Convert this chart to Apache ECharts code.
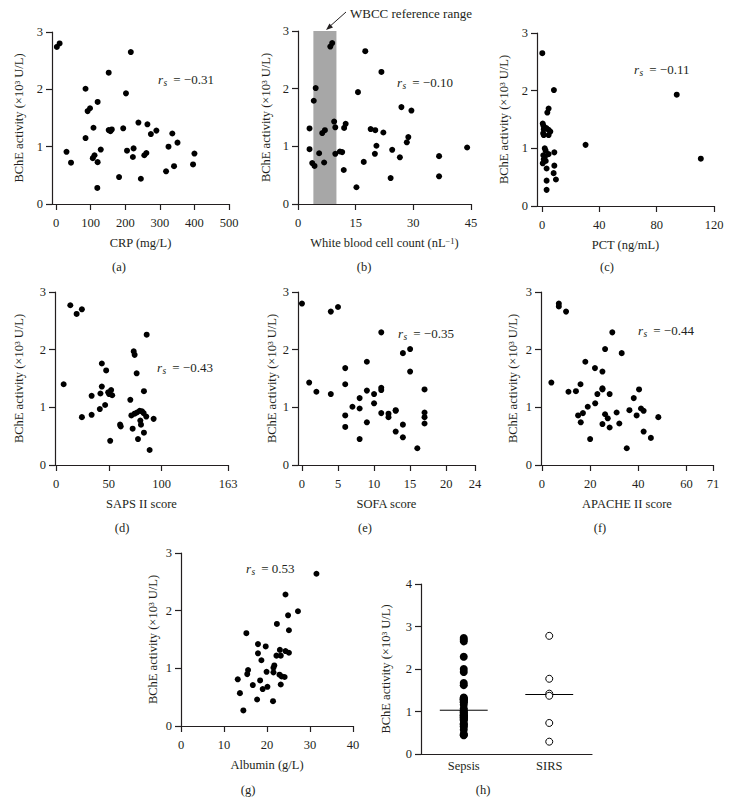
<!DOCTYPE html>
<html><head><meta charset="utf-8">
<script src="https://cdn.jsdelivr.net/npm/echarts@6/dist/echarts.min.js"></script>
<style>html,body{margin:0;padding:0;background:#fff}#c{width:732px;height:805px}</style>
</head><body><div id="c"></div>
<script>
// ---------------- DATA ----------------
const yTicks = [0, 1, 2, 3];
const yTicksH = [0, 1, 2, 3, 4];
const crpTicks = [0, 100, 200, 300, 400, 500];
const wbcTicks = [0, 15, 30, 45];
const pctTicks = [0, 40, 80, 120];
const sapsTicks = [0, 50, 100, 163];
const sofaTicks = [0, 5, 10, 15, 20, 24];
const apacheTicks = [0, 20, 40, 60, 71];
const albTicks = [0, 10, 20, 30, 40];
const categories = ['Sepsis', 'SIRS'];
const wbccRange = [4, 10];
const rsValues = ['−0.31', '−0.10', '−0.11', '−0.43', '−0.35', '−0.44', '0.53'];

const crpData = [[2,2.74],[10,2.80],[216,2.65],[152,2.29],[85,2.01],[202,1.93],[120,1.78],[98,1.67],[91,1.62],[108,1.33],[85,1.15],[152,1.29],[157,1.27],[161,1.30],[194,1.32],[238,1.42],[264,1.39],[290,1.28],[274,1.22],[336,1.23],[30,0.91],[43,0.72],[106,0.80],[111,0.85],[129,0.95],[120,0.73],[205,0.93],[224,0.97],[222,0.82],[255,0.85],[261,0.89],[325,1.00],[351,1.07],[400,0.88],[182,0.47],[245,0.44],[318,0.57],[341,0.66],[396,0.69],[119,0.28]];
const wbcData = [[8.4,2.73],[8.9,2.79],[17.5,2.65],[21.7,2.29],[15.6,1.94],[4.6,2.01],[4.1,1.79],[26.9,1.68],[29.5,1.62],[9.4,1.43],[3.0,1.31],[6.3,1.23],[7.0,1.28],[9.7,1.33],[12.4,1.39],[12.0,1.32],[18.9,1.30],[20.1,1.28],[22.2,1.24],[28.7,1.16],[28.3,1.07],[3.0,0.95],[5.5,0.88],[3.7,0.71],[4.3,0.66],[6.8,0.72],[9.7,0.87],[10.9,0.91],[11.5,0.90],[11.9,0.59],[20.4,1.01],[20.0,0.87],[24.5,0.94],[26.5,0.81],[17.1,0.73],[15.2,0.29],[24.1,0.45],[36.7,0.83],[36.7,0.48],[44.0,0.98]];
const pctData = [[0.2,2.65],[8.3,2.01],[94,1.93],[4.6,1.69],[3.7,1.62],[0.5,1.43],[1.0,1.39],[1.2,1.33],[0.8,1.26],[1.2,1.23],[3.0,1.35],[4.6,1.32],[5.8,1.29],[4.6,1.23],[30.4,1.06],[1.9,1.00],[2.5,0.96],[4.6,0.90],[0.9,0.88],[1.2,0.81],[0.5,0.74],[2.0,0.85],[2.6,0.78],[8.6,0.93],[8.6,0.70],[3.2,0.65],[8.1,0.57],[9.7,0.46],[3.2,0.44],[3.2,0.28],[110.8,0.82]];
const sapsData = [[13.5,2.77],[19.5,2.62],[24.5,2.70],[7.2,1.40],[85.9,2.26],[73.6,1.97],[74.5,1.91],[76.4,1.59],[43.4,1.76],[47.5,1.64],[83.3,1.28],[43.4,1.36],[33.7,1.20],[42.1,1.24],[49.4,1.26],[52.2,1.30],[53.2,1.21],[50.3,1.23],[70.4,1.13],[46.5,1.04],[41.5,0.97],[33.7,0.87],[24.5,0.83],[71.4,0.86],[74.5,0.89],[76.7,0.91],[79.3,0.94],[81.5,0.93],[83.0,0.90],[85.5,0.84],[92.5,0.80],[79.9,0.77],[80.5,0.70],[60.7,0.70],[61.3,0.67],[72.6,0.63],[83.3,0.56],[77.7,0.45],[51.3,0.42],[88.7,0.26]];
const sofaData = [[0,2.80],[4,2.66],[5,2.74],[1,1.43],[2,1.27],[4,1.23],[6,1.68],[6,1.40],[6,0.86],[6,0.66],[7,1.01],[8,1.16],[8,0.98],[8,0.45],[9,1.79],[9,1.29],[9,0.74],[10,1.23],[10,1.07],[11,2.30],[11,1.34],[11,1.30],[11,0.90],[12,0.89],[12,0.83],[13,0.95],[13,0.94],[13,0.58],[14,1.94],[14,0.70],[14,0.48],[15,2.01],[15,1.62],[16,0.29],[17,1.31],[17,0.91],[17,0.83],[17,0.72]];
const apacheData = [[7,2.80],[7,2.75],[10,2.66],[3.9,1.43],[11,1.27],[14.1,1.28],[18,1.79],[22,1.68],[25.1,1.62],[16,1.40],[25.1,1.33],[25.1,1.31],[23,1.23],[28.1,1.23],[29.2,2.30],[26.2,2.01],[33.1,1.94],[40.3,1.31],[38.1,1.16],[22.1,1.07],[19,1.01],[17,0.90],[15,0.86],[16.1,0.74],[26.2,0.88],[27.3,0.81],[25.1,0.71],[28.1,0.65],[31,0.91],[32.1,0.72],[36.3,0.95],[39.3,0.86],[41.1,0.98],[42.2,0.94],[42.2,0.58],[48.3,0.83],[45.2,0.47],[20,0.45],[35.2,0.29]];
const albData = [[31.5,2.64],[24.3,2.28],[27.2,1.99],[24.9,1.92],[22.3,1.77],[25.1,1.66],[15.2,1.61],[17.9,1.42],[19.7,1.38],[17.9,1.26],[23.0,1.32],[24.3,1.30],[25.1,1.27],[22.2,1.22],[23.2,1.22],[18.7,1.14],[21.7,1.05],[21.5,1.01],[21.5,0.93],[19.9,0.94],[15.6,0.97],[15.4,0.90],[13.2,0.81],[22.9,0.89],[23.4,0.86],[24.1,0.85],[23.2,0.72],[18.4,0.79],[16.7,0.71],[20.1,0.68],[19.0,0.64],[13.7,0.57],[17.7,0.46],[21.4,0.43],[14.5,0.27]];
const sepsisValues = [2.73,2.69,2.65,2.29,2.00,1.93,1.67,1.62,1.33,1.31,1.29,1.28,1.26,1.23,1.22,1.16,1.07,1.03,1.00,0.98,0.95,0.93,0.91,0.90,0.88,0.86,0.85,0.83,0.81,0.79,0.72,0.70,0.66,0.64,0.57,0.47,0.45,0.44];
const sirsValues = [2.78,1.77,1.42,1.37,0.73,0.29];
const medians = [1.03, 1.40];

// ---------------- STYLE / LAYOUT ----------------
const FONT = 'Liberation Serif';
const INK = '#231f20';
const FS = 12.5;
const yName = 'BChE activity (×10³ U/L)';
const panels = [
  {data: crpData,    ticks: crpTicks,    min: -12,   max: 500, xName: 'CRP (mg/L)', grid: {left: 52,  top: 32,  width: 177, height: 172}, yGap: 27, rs: [158, 79],  lab: '(a)', labPos: [119, 267]},
  {data: wbcData,    ticks: wbcTicks,    min: 0,     max: 45,  xName: 'White blood cell count (nL{sup|−1})', grid: {left: 298, top: 31, width: 173, height: 173}, yGap: 26, rs: [397, 82], lab: '(b)', labPos: [364, 267]},
  {data: pctData,    ticks: pctTicks,    min: -3.5,  max: 120, xName: 'PCT (ng/mL)', grid: {left: 537, top: 33, width: 177, height: 173}, yGap: 27, rs: [634, 69], lab: '(c)', labPos: [607, 267]},
  {data: sapsData,   ticks: sapsTicks,   min: -1,    max: 163, xName: 'SAPS II score', grid: {left: 55, top: 292, width: 173, height: 173}, yGap: 30, rs: [157, 367], lab: '(d)', labPos: [122, 528]},
  {data: sofaData,   ticks: sofaTicks,   min: -0.55, max: 24,  xName: 'SOFA score', grid: {left: 298, top: 292, width: 177, height: 173}, yGap: 19, rs: [398, 333], lab: '(e)', labPos: [365, 528]},
  {data: apacheData, ticks: apacheTicks, min: -0.4,  max: 71,  xName: 'APACHE II score', grid: {left: 541, top: 292, width: 172, height: 173}, yGap: 22, rs: [638, 330], lab: '(f)', labPos: [600, 528]},
  {data: albData,    ticks: albTicks,    min: 0,     max: 40,  xName: 'Albumin (g/L)', grid: {left: 181, top: 553, width: 172, height: 173}, yGap: 22, rs: [246, 568], lab: '(g)', labPos: [248, 790]}
];
const gridH = {left: 421, top: 584, width: 171, height: 170};

const txt = () => ({fontFamily: FONT, fontSize: FS, color: INK});
const lineSt = () => ({color: INK, width: 1.2});
const grids = [], xAxes = [], yAxes = [], series = [], graphics = [];

function yAxisCfg(i, ticks, gap) {
  return {
    gridIndex: i, type: 'value', min: ticks[0], max: ticks[ticks.length - 1], interval: 1,
    axisLine: {show: true, onZero: false, lineStyle: lineSt()},
    axisTick: {show: true, length: 6, lineStyle: lineSt()},
    axisLabel: Object.assign({show: true, margin: 9}, txt()),
    splitLine: {show: false},
    name: yName, nameLocation: 'middle', nameGap: gap, nameRotate: 90,
    nameTextStyle: txt()
  };
}

panels.forEach((p, i) => {
  grids.push(Object.assign({}, p.grid));
  xAxes.push({
    gridIndex: i, type: 'value', min: p.min, max: p.max,
    axisLine: {show: true, onZero: false, lineStyle: lineSt()},
    axisTick: {show: true, length: 6, customValues: p.ticks, lineStyle: lineSt()},
    axisLabel: Object.assign({show: true, margin: 12, customValues: p.ticks}, txt()),
    splitLine: {show: false},
    name: p.xName, nameLocation: 'middle', nameGap: 32,
    nameTextStyle: Object.assign({rich: {sup: {fontFamily: FONT, fontSize: 8.5, color: INK, verticalAlign: 'top', lineHeight: 14}}, lineHeight: 14}, txt())
  });
  yAxes.push(yAxisCfg(i, yTicks, p.yGap));
  const s = {
    type: 'scatter', xAxisIndex: i, yAxisIndex: i, data: p.data,
    symbol: 'circle', symbolSize: 6, itemStyle: {color: '#000', opacity: 1}, silent: true
  };
  if (i === 1) {
    s.markArea = {silent: true, itemStyle: {color: '#a7a7a7', opacity: 1},
      data: [[{xAxis: wbccRange[0], yAxis: 0}, {xAxis: wbccRange[1], yAxis: 3}]]};
  }
  series.push(s);
  const [rx, ry] = p.rs;
  graphics.push({type: 'text', x: rx, y: ry, style: {text: 'r', font: 'italic 13px "Liberation Serif"', fill: INK, verticalAlign: 'middle'}});
  graphics.push({type: 'text', x: rx + 5.5, y: ry + 3.5, style: {text: 's', font: 'italic 9.5px "Liberation Serif"', fill: INK, verticalAlign: 'middle'}});
  graphics.push({type: 'text', x: rx + 12, y: ry, style: {text: ' = ' + rsValues[i], font: '13px "Liberation Serif"', fill: INK, verticalAlign: 'middle'}});
  graphics.push({type: 'text', x: p.labPos[0], y: p.labPos[1], style: {text: p.lab, font: FS + 'px "Liberation Serif"', fill: INK, align: 'center', verticalAlign: 'middle'}});
});

// panel (h)
const hi = panels.length;
grids.push(gridH);
xAxes.push({
  gridIndex: hi, type: 'value', min: -0.5, max: 1.5,
  axisLine: {show: true, onZero: false, lineStyle: lineSt()},
  axisTick: {show: false},
  axisLabel: Object.assign({show: true, margin: 5, customValues: [0, 1], formatter: v => categories[Math.round(v)]}, txt()),
  splitLine: {show: false}
});
yAxes.push(yAxisCfg(hi, yTicksH, 29));
series.push({type: 'scatter', xAxisIndex: hi, yAxisIndex: hi, data: sepsisValues.map(v => [0, v]),
  symbol: 'circle', symbolSize: 8, itemStyle: {color: '#000', opacity: 1}, silent: true});
series.push({type: 'scatter', xAxisIndex: hi, yAxisIndex: hi, data: sirsValues.map(v => [1, v]),
  symbol: 'circle', symbolSize: 7, itemStyle: {color: '#fff', borderColor: '#000', borderWidth: 1, opacity: 1}, silent: true});
const halfW = 0.28;
medians.forEach((m, k) => {
  series.push({type: 'line', xAxisIndex: hi, yAxisIndex: hi, data: [[k - halfW, m], [k + halfW, m]],
    symbol: 'none', lineStyle: {color: '#000', width: 1}, silent: true, z: 1});
});
graphics.push({type: 'text', x: 483, y: 790, style: {text: '(h)', font: FS + 'px "Liberation Serif"', fill: INK, align: 'center', verticalAlign: 'middle'}});

// WBCC annotation
graphics.push({type: 'text', x: 350, y: 13, style: {text: 'WBCC reference range', font: '13px "Liberation Serif"', fill: INK, verticalAlign: 'middle'}});
graphics.push({type: 'line', shape: {x1: 346, y1: 12, x2: 328, y2: 28}, style: {stroke: INK, lineWidth: 1}});
graphics.push({type: 'polygon', shape: {points: [[326, 30], [329.5, 23.5], [333, 27.5]]}, style: {fill: INK}});

const chart = echarts.init(document.getElementById('c'), null, {renderer: 'svg'});
chart.setOption({
  animation: false,
  backgroundColor: '#fff',
  textStyle: {fontFamily: FONT},
  grid: grids, xAxis: xAxes, yAxis: yAxes, series: series, graphic: graphics
});
</script></body></html>
